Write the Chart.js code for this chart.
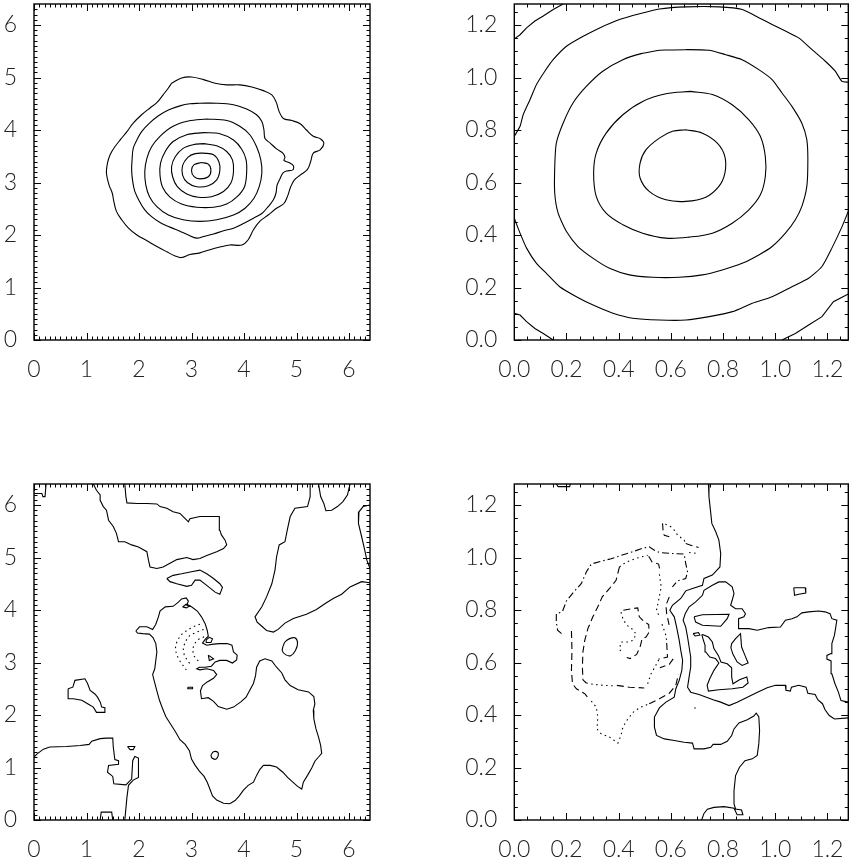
<!DOCTYPE html>
<html>
<head>
<meta charset="utf-8">
<script src="https://cdn.jsdelivr.net/npm/chart.js@4.4.1/dist/chart.umd.min.js"></script>
<style>
  html, body { margin: 0; background: #fff; }
  body { position: relative; width: 854px; height: 865px; overflow: hidden; }
  .panel { position: absolute; }
</style>
</head>
<body>
<div class="panel" style="left:0;top:0"><canvas id="tl" width="427" height="433"></canvas></div>
<div class="panel" style="left:427px;top:0"><canvas id="tr" width="427" height="433"></canvas></div>
<div class="panel" style="left:0;top:433px"><canvas id="bl" width="427" height="432"></canvas></div>
<div class="panel" style="left:427px;top:433px"><canvas id="br" width="427" height="432"></canvas></div>
<script>
// axes
const A_MAX = 6.4;
const A_TICKS = [0, 1, 2, 3, 4, 5, 6];
const A_MINOR = 0.1;
const B_MAX = 1.28;
const B_TICKS = [0, 0.2, 0.4, 0.6, 0.8, 1.0, 1.2];
const B_MINOR = 0.05;

// top left: nested contours
const TL_C1 = [[2.62,4.89],[2.81,4.99],[3.00,5.01],[3.23,4.96],[3.45,4.89],[3.67,4.86],[3.92,4.86],[4.15,4.82],[4.37,4.75],[4.53,4.67],[4.61,4.54],[4.67,4.35],[4.75,4.22],[4.91,4.18],[5.07,4.12],[5.19,4.00],[5.32,3.88],[5.46,3.83],[5.52,3.74],[5.45,3.62],[5.32,3.56],[5.27,3.40],[5.21,3.25],[5.07,3.14],[4.96,3.05],[4.89,2.92],[4.83,2.74],[4.76,2.60],[4.62,2.51],[4.46,2.38],[4.30,2.26],[4.18,2.10],[4.08,1.91],[3.96,1.81],[3.73,1.81],[3.54,1.77],[3.35,1.72],[3.16,1.66],[2.97,1.63],[2.81,1.57],[2.69,1.60],[2.53,1.68],[2.34,1.78],[2.15,1.89],[1.96,2.00],[1.80,2.13],[1.67,2.29],[1.57,2.45],[1.52,2.64],[1.49,2.80],[1.43,2.95],[1.38,3.18],[1.40,3.37],[1.45,3.53],[1.54,3.68],[1.65,3.82],[1.77,3.97],[1.89,4.13],[2.05,4.29],[2.21,4.42],[2.34,4.52],[2.46,4.67],[2.56,4.80]];
const TL_C2 = [[3.16,4.51],[3.48,4.51],[3.80,4.48],[4.05,4.40],[4.24,4.29],[4.34,4.16],[4.38,4.00],[4.40,3.84],[4.50,3.75],[4.62,3.64],[4.74,3.56],[4.78,3.48],[4.76,3.42],[4.86,3.38],[4.94,3.32],[4.93,3.24],[4.81,3.22],[4.74,3.18],[4.69,3.08],[4.63,2.95],[4.61,2.80],[4.56,2.67],[4.46,2.54],[4.34,2.41],[4.18,2.32],[3.99,2.22],[3.80,2.13],[3.61,2.08],[3.42,2.02],[3.23,1.97],[3.10,1.94],[2.94,2.00],[2.78,2.07],[2.59,2.15],[2.40,2.24],[2.24,2.35],[2.11,2.48],[2.01,2.64],[1.92,2.83],[1.88,3.02],[1.86,3.24],[1.87,3.46],[1.89,3.65],[1.96,3.81],[2.05,3.97],[2.20,4.13],[2.37,4.27],[2.56,4.38],[2.78,4.46],[2.97,4.50]];
const TL_C3 = [[3.29,4.21],[3.67,4.18],[3.92,4.07],[4.11,3.91],[4.24,3.68],[4.32,3.43],[4.34,3.18],[4.29,2.92],[4.19,2.70],[4.02,2.51],[3.80,2.38],[3.48,2.29],[3.16,2.26],[2.84,2.29],[2.56,2.38],[2.34,2.54],[2.20,2.73],[2.13,2.95],[2.11,3.21],[2.15,3.46],[2.24,3.68],[2.40,3.88],[2.65,4.07],[2.94,4.17]];
const TL_C4 = [[3.23,3.95],[3.54,3.93],[3.80,3.81],[3.96,3.63],[4.04,3.43],[4.05,3.18],[4.01,2.92],[3.87,2.73],[3.67,2.59],[3.42,2.53],[3.10,2.53],[2.81,2.59],[2.59,2.72],[2.45,2.91],[2.40,3.14],[2.41,3.37],[2.50,3.59],[2.65,3.78],[2.91,3.91]];
const TL_C5 = [[3.23,3.74],[3.48,3.70],[3.67,3.59],[3.78,3.43],[3.80,3.21],[3.75,2.99],[3.61,2.83],[3.38,2.73],[3.13,2.72],[2.91,2.78],[2.73,2.92],[2.64,3.11],[2.62,3.30],[2.69,3.49],[2.84,3.65],[3.03,3.72]];
const TL_C6 = [[3.23,3.56],[3.42,3.53],[3.52,3.40],[3.54,3.23],[3.48,3.05],[3.32,2.94],[3.10,2.92],[2.92,3.00],[2.83,3.14],[2.83,3.32],[2.93,3.48],[3.07,3.55]];
const TL_C7 = [[3.19,3.38],[3.32,3.35],[3.37,3.23],[3.32,3.11],[3.16,3.07],[3.05,3.11],[3.00,3.23],[3.05,3.34]];

// top right: rings cut by the frame
const TR_CORNER_TL = [[0,1.147],[0.022,1.163],[0.047,1.189],[0.079,1.215],[0.111,1.234],[0.149,1.259],[0.187,1.28]];
const TR_CORNER_BL = [[0,0.102],[0.022,0.095],[0.047,0.070],[0.079,0.044],[0.111,0.025],[0.149,0]];
const TR_CORNER_BR = [[1.026,0],[1.077,0.025],[1.128,0.057],[1.179,0.089],[1.223,0.146],[1.28,0.175]];
const TR_RING_UP = [[0,0.776],[0.022,0.814],[0.034,0.858],[0.060,0.915],[0.085,0.973],[0.117,1.024],[0.149,1.068],[0.200,1.119],[0.264,1.157],[0.327,1.189],[0.403,1.221],[0.480,1.243],[0.556,1.261],[0.658,1.269],[0.785,1.269],[0.874,1.259],[0.937,1.228],[0.988,1.202],[1.039,1.177],[1.090,1.151],[1.141,1.106],[1.192,1.062],[1.230,1.024],[1.256,0.985],[1.28,0.982]];
const TR_RING_LOW = [[0,0.464],[0.022,0.407],[0.047,0.350],[0.085,0.292],[0.123,0.254],[0.174,0.203],[0.238,0.165],[0.302,0.133],[0.378,0.102],[0.454,0.083],[0.556,0.076],[0.658,0.076],[0.747,0.089],[0.836,0.108],[0.912,0.140],[0.988,0.165],[1.064,0.203],[1.128,0.235],[1.179,0.280],[1.217,0.350],[1.256,0.432],[1.28,0.490]];
const TR_C3 = [[0.556,1.104],[0.657,1.106],[0.746,1.104],[0.810,1.087],[0.873,1.068],[0.937,1.030],[0.988,0.992],[1.026,0.941],[1.064,0.890],[1.102,0.826],[1.121,0.763],[1.125,0.687],[1.121,0.585],[1.102,0.509],[1.077,0.458],[1.039,0.407],[0.988,0.356],[0.937,0.324],[0.873,0.292],[0.797,0.267],[0.721,0.248],[0.632,0.239],[0.530,0.239],[0.441,0.248],[0.365,0.273],[0.301,0.312],[0.244,0.356],[0.200,0.413],[0.168,0.483],[0.155,0.559],[0.155,0.661],[0.161,0.750],[0.187,0.826],[0.225,0.903],[0.276,0.966],[0.339,1.024],[0.416,1.068],[0.486,1.091]];
const TR_C4 = [[0.676,0.947],[0.759,0.935],[0.835,0.896],[0.899,0.839],[0.943,0.776],[0.962,0.699],[0.962,0.623],[0.943,0.553],[0.899,0.496],[0.835,0.445],[0.759,0.407],[0.670,0.392],[0.581,0.388],[0.492,0.407],[0.416,0.439],[0.352,0.483],[0.314,0.547],[0.304,0.636],[0.314,0.712],[0.352,0.788],[0.416,0.858],[0.492,0.909],[0.581,0.938]];
const TR_C5 = [[0.657,0.801],[0.721,0.788],[0.778,0.750],[0.807,0.699],[0.807,0.636],[0.784,0.585],[0.734,0.544],[0.657,0.528],[0.581,0.534],[0.517,0.566],[0.482,0.617],[0.482,0.674],[0.505,0.725],[0.556,0.769],[0.606,0.795]];

// bottom left: irregular contours
const BL_CORNER = [[0,6.22],[0.15,6.22],[0.17,6.16],[0.21,6.16],[0.23,6.4]];
const BL_TOP = [[1.13,6.4],[1.19,6.28],[1.26,6.19],[1.26,6.09],[1.32,5.97],[1.38,5.90],[1.42,5.71],[1.51,5.59],[1.57,5.46],[1.61,5.30],[1.73,5.30],[1.86,5.24],[1.99,5.20],[2.15,5.11],[2.18,4.95],[2.21,4.82],[2.34,4.79],[2.46,4.82],[2.59,4.89],[2.72,4.96],[2.91,5.00],[3.03,4.96],[3.16,4.98],[3.29,5.04],[3.48,5.11],[3.61,5.17],[3.67,5.24],[3.64,5.33],[3.57,5.43],[3.54,5.52],[3.53,5.78],[3.35,5.78],[3.16,5.78],[2.97,5.74],[2.94,5.68],[2.88,5.74],[2.78,5.84],[2.65,5.87],[2.53,5.94],[2.40,5.97],[2.34,6.02],[2.15,6.03],[1.96,6.03],[1.77,6.04],[1.75,6.16],[1.73,6.4]];
const BL_ISLE_A = [[2.53,4.60],[2.65,4.66],[2.81,4.69],[3.00,4.73],[3.16,4.76],[3.29,4.69],[3.42,4.60],[3.54,4.50],[3.59,4.43],[3.54,4.30],[3.45,4.34],[3.29,4.47],[3.16,4.57],[3.07,4.57],[3.00,4.47],[2.91,4.45],[2.72,4.50],[2.59,4.54]];
const BL_RIGHT_A = [[5.26,6.4],[5.26,6.16],[5.21,5.97],[4.97,5.94],[4.88,5.78],[4.83,5.55],[4.78,5.30],[4.67,5.24],[4.62,5.01],[4.59,4.76],[4.53,4.50],[4.43,4.25],[4.34,4.06],[4.21,3.87],[4.25,3.77],[4.34,3.69],[4.43,3.61],[4.56,3.58],[4.65,3.63],[4.78,3.75],[4.94,3.84],[5.19,3.92],[5.38,4.01],[5.54,4.12],[5.70,4.22],[5.86,4.30],[6.02,4.44],[6.24,4.54],[6.4,4.52]];
const BL_RIGHT_B = [[5.42,6.4],[5.46,6.16],[5.52,6.03],[5.56,5.89],[5.67,5.90],[5.78,5.97],[5.88,6.06],[5.97,6.19],[6.02,6.4]];
const BL_RIGHT_C = [[6.4,6.00],[6.27,5.97],[6.19,5.87],[6.18,5.65],[6.24,5.40],[6.30,5.14],[6.34,4.95],[6.4,4.79]];
const BL_BUMP = [[2.83,4.06],[2.90,4.11],[2.97,4.08],[2.90,4.04]];
const BL_MAIN = [[1.94,3.60],[2.01,3.68],[2.15,3.68],[2.26,3.63],[2.32,3.73],[2.37,3.87],[2.40,3.98],[2.50,4.06],[2.65,4.07],[2.75,4.15],[2.81,4.21],[2.90,4.23],[2.94,4.17],[2.91,4.09],[3.00,4.06],[3.11,3.98],[3.19,3.87],[3.26,3.74],[3.30,3.61],[3.32,3.50],[3.26,3.44],[3.21,3.37],[3.29,3.33],[3.42,3.35],[3.54,3.36],[3.68,3.36],[3.77,3.33],[3.80,3.20],[3.87,3.14],[3.86,3.05],[3.78,2.99],[3.67,3.04],[3.54,3.04],[3.45,3.01],[3.38,2.93],[3.26,2.91],[3.15,2.91],[3.10,2.88],[3.16,2.86],[3.29,2.88],[3.42,2.85],[3.48,2.77],[3.42,2.70],[3.30,2.63],[3.21,2.56],[3.17,2.46],[3.19,2.31],[3.32,2.33],[3.42,2.26],[3.51,2.16],[3.67,2.11],[3.80,2.15],[3.94,2.25],[4.04,2.34],[4.11,2.47],[4.18,2.60],[4.22,2.75],[4.24,2.91],[4.30,3.03],[4.40,3.07],[4.53,3.03],[4.62,2.91],[4.72,2.80],[4.78,2.67],[4.88,2.56],[5.03,2.48],[5.23,2.44],[5.33,2.35],[5.35,2.21],[5.32,2.09],[5.33,1.93],[5.37,1.74],[5.42,1.58],[5.46,1.42],[5.48,1.27],[5.42,1.20],[5.35,1.12],[5.29,0.99],[5.21,0.85],[5.13,0.72],[5.10,0.59],[5.02,0.64],[4.93,0.72],[4.83,0.81],[4.74,0.91],[4.62,1.01],[4.50,1.04],[4.37,1.04],[4.30,0.96],[4.24,0.85],[4.18,0.72],[4.08,0.66],[3.99,0.57],[3.91,0.46],[3.83,0.37],[3.73,0.31],[3.61,0.32],[3.48,0.38],[3.40,0.46],[3.35,0.59],[3.30,0.72],[3.24,0.83],[3.15,0.93],[3.07,1.04],[3.00,1.16],[2.96,1.32],[2.88,1.44],[2.78,1.53],[2.70,1.67],[2.60,1.83],[2.51,1.97],[2.45,2.12],[2.39,2.28],[2.34,2.46],[2.29,2.65],[2.26,2.77],[2.30,2.88],[2.32,3.04],[2.34,3.20],[2.32,3.36],[2.27,3.47],[2.20,3.54],[2.07,3.55],[1.97,3.56]];
const BL_LOOP_A = [[3.28,3.43],[3.34,3.48],[3.40,3.45],[3.37,3.38],[3.29,3.38]];
const BL_TRI = [[3.32,3.14],[3.42,3.07],[3.34,3.04]];
const BL_RING = [[4.74,3.30],[4.78,3.39],[4.86,3.45],[4.97,3.47],[5.02,3.37],[4.98,3.23],[4.89,3.13],[4.79,3.15],[4.73,3.22]];
const BL_TINY = [[2.93,2.53],[3.02,2.53],[3.02,2.50],[2.93,2.50]];
const BL_OVAL = [[3.37,1.24],[3.42,1.30],[3.50,1.29],[3.51,1.23],[3.47,1.16],[3.39,1.18]];
const BL_ISLE_B = [[0.65,2.50],[0.74,2.53],[0.78,2.66],[0.97,2.69],[1.02,2.60],[1.07,2.47],[1.16,2.40],[1.21,2.34],[1.26,2.25],[1.29,2.15],[1.35,2.14],[1.35,2.05],[1.19,2.05],[1.13,2.15],[1.03,2.21],[0.91,2.28],[0.75,2.31],[0.65,2.31]];
const BL_LOWER = [[0,1.20],[0.06,1.26],[0.18,1.35],[0.30,1.39],[0.62,1.40],[0.88,1.42],[1.05,1.44],[1.10,1.50],[1.26,1.55],[1.38,1.56],[1.50,1.56],[1.51,1.39],[1.54,1.15],[1.61,1.13],[1.61,1.06],[1.42,1.04],[1.40,0.91],[1.50,0.83],[1.52,0.69],[1.75,0.67],[1.86,0.78],[1.88,1.13],[1.92,1.21],[1.99,1.18],[1.99,0.81],[1.89,0.76],[1.80,0.66],[1.77,0.43],[1.73,0]];
const BL_LOOP_B = [[1.78,1.40],[1.92,1.40],[1.89,1.34],[1.83,1.34]];
const BL_STEP = [[1.26,0],[1.28,0.15],[1.48,0.15],[1.50,0]];
const BL_NEG_1 = [[3.16,3.73],[3.03,3.68],[2.91,3.61],[2.79,3.52],[2.72,3.39],[2.69,3.26],[2.72,3.14],[2.79,3.01],[2.90,2.86]];
const BL_NEG_2 = [[3.23,3.63],[3.10,3.58],[2.97,3.52],[2.89,3.41],[2.84,3.28],[2.86,3.15],[2.92,3.04],[3.00,2.94]];
const BL_NEG_3 = [[3.24,3.49],[3.13,3.44],[3.05,3.35],[3.02,3.24],[3.05,3.12],[3.13,3.03]];

// bottom right: solid contours
const BR_S1 = [[0.161,1.28],[0.168,1.270],[0.212,1.270],[0.215,1.28]];
const BR_S2 = [[0.744,1.28],[0.746,1.232],[0.753,1.168],[0.757,1.130],[0.772,1.098],[0.784,1.066],[0.791,1.015],[0.788,0.964],[0.759,0.933],[0.727,0.920],[0.721,0.894],[0.683,0.882],[0.657,0.873],[0.638,0.844],[0.606,0.818],[0.596,0.799],[0.613,0.774],[0.622,0.735],[0.632,0.684],[0.638,0.646],[0.645,0.608],[0.642,0.570],[0.632,0.532],[0.619,0.500],[0.613,0.468],[0.581,0.449],[0.556,0.427],[0.537,0.392],[0.537,0.354],[0.545,0.322],[0.575,0.309],[0.613,0.303],[0.651,0.296],[0.683,0.293],[0.689,0.271],[0.727,0.271],[0.753,0.277],[0.762,0.288],[0.791,0.288],[0.816,0.300],[0.833,0.322],[0.842,0.347],[0.861,0.370],[0.893,0.382],[0.918,0.396],[0.927,0.407],[0.937,0.394],[0.940,0.341],[0.937,0.290],[0.931,0.246],[0.912,0.233],[0.884,0.226],[0.863,0.201],[0.848,0.169],[0.842,0.112],[0.842,0.061],[0.848,0.042],[0.871,0.038],[0.876,0.020],[0.854,0.020],[0.842,0.045],[0.804,0.051],[0.765,0.048],[0.740,0.041],[0.727,0.025],[0.718,0]];
const BR_S3 = [[1.28,0.449],[1.252,0.455],[1.242,0.487],[1.229,0.519],[1.217,0.557],[1.214,0.606],[1.198,0.613],[1.198,0.627],[1.214,0.634],[1.217,0.672],[1.227,0.704],[1.232,0.735],[1.236,0.761],[1.217,0.767],[1.210,0.786],[1.191,0.793],[1.166,0.796],[1.128,0.793],[1.102,0.789],[1.083,0.774],[1.064,0.767],[1.039,0.761],[1.020,0.735],[0.975,0.733],[0.931,0.723],[0.899,0.729],[0.861,0.729],[0.858,0.748],[0.861,0.767],[0.880,0.774],[0.886,0.786],[0.873,0.805],[0.848,0.805],[0.829,0.818],[0.835,0.837],[0.842,0.863],[0.835,0.888],[0.810,0.907],[0.784,0.907],[0.759,0.894],[0.727,0.875],[0.721,0.856],[0.695,0.831],[0.670,0.812],[0.655,0.786],[0.647,0.761],[0.657,0.735],[0.664,0.697],[0.670,0.659],[0.676,0.621],[0.676,0.583],[0.670,0.545],[0.664,0.506],[0.676,0.487],[0.708,0.478],[0.736,0.468],[0.762,0.458],[0.791,0.449],[0.823,0.436],[0.854,0.449],[0.893,0.468],[0.924,0.483],[0.969,0.504],[1.001,0.513],[1.039,0.513],[1.041,0.494],[1.058,0.491],[1.062,0.506],[1.090,0.513],[1.118,0.506],[1.125,0.483],[1.153,0.478],[1.163,0.458],[1.181,0.443],[1.191,0.420],[1.207,0.398],[1.227,0.385],[1.28,0.389]];
const BR_S4 = [[0.689,0.774],[0.721,0.782],[0.823,0.784],[0.816,0.767],[0.791,0.738],[0.721,0.742],[0.695,0.754]];
const BR_S5 = [[0.685,0.710],[0.706,0.714],[0.711,0.704],[0.693,0.701]];
const BR_S6 = [[0.721,0.707],[0.744,0.697],[0.759,0.678],[0.765,0.653],[0.782,0.627],[0.792,0.602],[0.816,0.595],[0.833,0.580],[0.833,0.545],[0.838,0.519],[0.863,0.534],[0.891,0.545],[0.896,0.522],[0.876,0.506],[0.835,0.500],[0.784,0.496],[0.744,0.491],[0.739,0.513],[0.749,0.538],[0.765,0.570],[0.784,0.598],[0.771,0.615],[0.749,0.621],[0.734,0.640],[0.731,0.665],[0.724,0.687],[0.719,0.704]];
const BR_S7 = [[0.833,0.672],[0.848,0.691],[0.867,0.710],[0.871,0.659],[0.884,0.627],[0.896,0.598],[0.873,0.589],[0.854,0.602],[0.838,0.631],[0.830,0.656]];
const BR_S8 = [[1.071,0.885],[1.115,0.885],[1.117,0.865],[1.090,0.860],[1.074,0.856]];
const BR_S9 = [[0.690,0.428],[0.695,0.426]];
// bottom right: broken contours
const BR_DA = [[0.181,0.710],[0.166,0.723],[0.161,0.754],[0.161,0.786],[0.184,0.793],[0.200,0.835],[0.228,0.869],[0.257,0.901],[0.276,0.945],[0.295,0.975],[0.333,0.986],[0.371,0.995],[0.409,1.008],[0.448,1.020],[0.486,1.033],[0.517,1.041],[0.537,1.028],[0.556,1.019],[0.606,1.015],[0.651,1.013],[0.657,0.977],[0.664,0.945],[0.657,0.920],[0.626,0.911],[0.606,0.888]];
const BR_DB = [[0.219,0.720],[0.221,0.646],[0.219,0.570],[0.223,0.519],[0.238,0.500],[0.270,0.481],[0.282,0.466]];
const BR_DC = [[0.295,0.453],[0.314,0.430],[0.320,0.392],[0.317,0.347],[0.333,0.328],[0.365,0.316],[0.397,0.293],[0.409,0.322],[0.416,0.354],[0.435,0.385],[0.460,0.415],[0.486,0.430],[0.517,0.443]];
const BR_DS = [[0.517,0.443],[0.556,0.462],[0.594,0.483],[0.619,0.513],[0.629,0.555]];
const BR_DD = [[0.403,0.964],[0.390,0.913],[0.365,0.882],[0.337,0.850],[0.320,0.812],[0.301,0.774],[0.282,0.729],[0.270,0.684],[0.263,0.640],[0.261,0.583],[0.263,0.534],[0.276,0.522]];
const BR_DE = [[0.403,0.964],[0.428,0.982],[0.467,0.997],[0.511,1.008]];
const BR_DF = [[0.515,1.005],[0.528,0.983],[0.553,0.975],[0.558,0.952]];
const BR_DG = [[0.556,0.936],[0.563,0.888],[0.553,0.837],[0.545,0.799],[0.558,0.771]];
const BR_DN = [[0.594,0.850],[0.581,0.818],[0.584,0.786],[0.591,0.754],[0.596,0.729]];
const BR_DH = [[0.276,0.522],[0.301,0.517],[0.339,0.513],[0.384,0.511]];
const BR_DI = [[0.393,0.513],[0.441,0.506],[0.498,0.503]];
const BR_DJ = [[0.511,0.519],[0.524,0.557],[0.540,0.585],[0.556,0.615]];
const BR_DK = [[0.418,0.799],[0.451,0.805],[0.473,0.808],[0.479,0.774],[0.495,0.758],[0.515,0.745],[0.517,0.716],[0.505,0.697],[0.490,0.691],[0.482,0.659],[0.469,0.631],[0.444,0.615],[0.431,0.619]];
const BR_DL = [[0.409,0.792],[0.418,0.761],[0.439,0.735],[0.456,0.725],[0.467,0.707],[0.454,0.684],[0.435,0.678],[0.409,0.678],[0.403,0.649],[0.418,0.636]];
const BR_DO = [[0.566,0.746],[0.579,0.710],[0.584,0.684]];
const BR_DP = [[0.584,0.674],[0.587,0.621],[0.553,0.613]];
const BR_DQ = [[0.609,0.614],[0.594,0.593],[0.558,0.580]];
const BR_H1 = [[0.568,1.130],[0.571,1.092],[0.575,1.085],[0.594,1.079]];
const BR_H2 = [[0.579,1.127],[0.600,1.117],[0.613,1.104],[0.626,1.085],[0.651,1.066],[0.657,1.053]];
const BR_H3 = [[0.657,1.053],[0.676,1.047],[0.706,1.038]];
const BR_H4 = [[0.670,1.019],[0.706,1.015]];

const DASH = { solid: [], dash: [7, 4], dot: [1.5, 3.5], dashdot: [7, 3, 1.5, 3] };

const frameTicks = {
  id: 'frameTicks',
  afterDraw(chart, args, opts) {
    const { ctx, chartArea: a, scales: { x, y } } = chart;
    const minors = [];
    for (let i = 1; i * opts.minor < opts.max - 1e-9; i++) minors.push(i * opts.minor);
    ctx.save();
    ctx.strokeStyle = '#000';
    ctx.lineWidth = 1;
    const mark = (vals, len) => {
      ctx.beginPath();
      vals.forEach(v => {
        const px = Math.round(x.getPixelForValue(v)) + 0.5;
        const py = Math.round(y.getPixelForValue(v)) + 0.5;
        ctx.moveTo(px, a.bottom); ctx.lineTo(px, a.bottom - len);
        ctx.moveTo(px, a.top); ctx.lineTo(px, a.top + len);
        ctx.moveTo(a.left, py); ctx.lineTo(a.left + len, py);
        ctx.moveTo(a.right, py); ctx.lineTo(a.right - len, py);
      });
      ctx.stroke();
    };
    mark(minors, 3.5);
    mark(opts.ticks, 7);
    ctx.lineWidth = 1.4;
    ctx.strokeRect(a.left, a.top, a.right - a.left, a.bottom - a.top);
    ctx.restore();
  }
};

const tickFont = { family: 'Lato, "DejaVu Sans", sans-serif', size: 23, weight: 300 };

function axis(max, ticks, dec, fitFn, pad) {
  return {
    type: 'linear', min: 0, max,
    grid: { display: false }, border: { display: false },
    afterBuildTicks: s => { s.ticks = ticks.map(v => ({ value: v })); },
    afterFit: fitFn,
    ticks: { padding: pad, color: '#222', font: tickFont, autoSkip: false, maxRotation: 0,
      callback: v => Number(v).toFixed(dec) }
  };
}

function panel(id, cfg) {
  const ctx = document.getElementById(id).getContext('2d');
  return new Chart(ctx, {
    type: 'scatter',
    data: {
      datasets: cfg.lines.map(l => {
        const pts = l.closed ? l.pts.concat([l.pts[0]]) : l.pts;
        return {
          data: pts.map(([x, y]) => ({ x, y })),
          showLine: true, pointRadius: 0, pointHoverRadius: 0,
          borderColor: '#000', borderWidth: 1.1,
          borderDash: DASH[l.style || 'solid'],
          tension: l.tension || 0
        };
      })
    },
    options: {
      responsive: false, animation: false, events: [],
      layout: { padding: cfg.padding },
      plugins: {
        legend: { display: false }, tooltip: { enabled: false },
        frameTicks: { ticks: cfg.ticks, minor: cfg.minor, max: cfg.max }
      },
      scales: {
        x: axis(cfg.max, cfg.ticks, cfg.dec, s => {
          s.height = cfg.xh; s.paddingLeft = 0; s.paddingRight = 0;
        }, 8),
        y: axis(cfg.max, cfg.ticks, cfg.dec, s => {
          s.width = cfg.yw; s.paddingTop = 0; s.paddingBottom = 0;
        }, 9)
      }
    },
    plugins: [frameTicks]
  });
}

const T = 0.35;
panel('tl', {
  max: A_MAX, ticks: A_TICKS, minor: A_MINOR, dec: 0,
  padding: { top: 4, right: 57, bottom: 0, left: 0 }, yw: 34, xh: 93,
  lines: [TL_C1, TL_C2, TL_C3, TL_C4, TL_C5, TL_C6, TL_C7].map(p => ({ pts: p, closed: true, tension: T }))
});
panel('tr', {
  max: B_MAX, ticks: B_TICKS, minor: B_MINOR, dec: 1,
  padding: { top: 4, right: 5.7, bottom: 0, left: 0 }, yw: 87.3, xh: 93,
  lines: [
    { pts: TR_CORNER_TL }, { pts: TR_CORNER_BL }, { pts: TR_CORNER_BR },
    { pts: TR_RING_UP, tension: 0.2 }, { pts: TR_RING_LOW, tension: 0.2 },
    { pts: TR_C3, closed: true, tension: 0.2 },
    { pts: TR_C4, closed: true, tension: T },
    { pts: TR_C5, closed: true, tension: T }
  ]
});
panel('bl', {
  max: A_MAX, ticks: A_TICKS, minor: A_MINOR, dec: 0,
  padding: { top: 51, right: 57, bottom: 0, left: 0 }, yw: 34, xh: 45,
  lines: [
    { pts: BL_CORNER }, { pts: BL_TOP }, { pts: BL_ISLE_A, closed: true },
    { pts: BL_RIGHT_A }, { pts: BL_RIGHT_B }, { pts: BL_RIGHT_C },
    { pts: BL_BUMP, closed: true }, { pts: BL_MAIN, closed: true },
    { pts: BL_LOOP_A, closed: true }, { pts: BL_TRI, closed: true },
    { pts: BL_RING, closed: true, tension: T }, { pts: BL_TINY, closed: true },
    { pts: BL_OVAL, closed: true, tension: T }, { pts: BL_ISLE_B, closed: true },
    { pts: BL_LOWER }, { pts: BL_LOOP_B, closed: true }, { pts: BL_STEP },
    { pts: BL_NEG_1, style: 'dot' }, { pts: BL_NEG_2, style: 'dot' }, { pts: BL_NEG_3, style: 'dot' }
  ]
});
panel('br', {
  max: B_MAX, ticks: B_TICKS, minor: B_MINOR, dec: 1,
  padding: { top: 51, right: 5.7, bottom: 0, left: 0 }, yw: 87.3, xh: 45,
  lines: [
    { pts: BR_S1 }, { pts: BR_S2 }, { pts: BR_S3 }, { pts: BR_S4, closed: true },
    { pts: BR_S5, closed: true }, { pts: BR_S6, closed: true }, { pts: BR_S7, closed: true },
    { pts: BR_S8, closed: true }, { pts: BR_S9 },
    { pts: BR_DA, style: 'dashdot' }, { pts: BR_DB, style: 'dash' }, { pts: BR_DC, style: 'dot' },
    { pts: BR_DS, style: 'dash' }, { pts: BR_DD, style: 'dash' }, { pts: BR_DE, style: 'dot' },
    { pts: BR_DF, style: 'dash' }, { pts: BR_DG, style: 'dot' }, { pts: BR_DN, style: 'dash' },
    { pts: BR_DH, style: 'dot' }, { pts: BR_DI, style: 'dash' }, { pts: BR_DJ, style: 'dot' },
    { pts: BR_DK, style: 'dash' }, { pts: BR_DL, style: 'dot' }, { pts: BR_DO, style: 'dot' },
    { pts: BR_DP, style: 'dash' }, { pts: BR_DQ, style: 'dash' },
    { pts: BR_H1, style: 'dash' }, { pts: BR_H2, style: 'dot' }, { pts: BR_H3, style: 'dash' },
    { pts: BR_H4, style: 'dot' }
  ]
});
</script>
</body>
</html>
